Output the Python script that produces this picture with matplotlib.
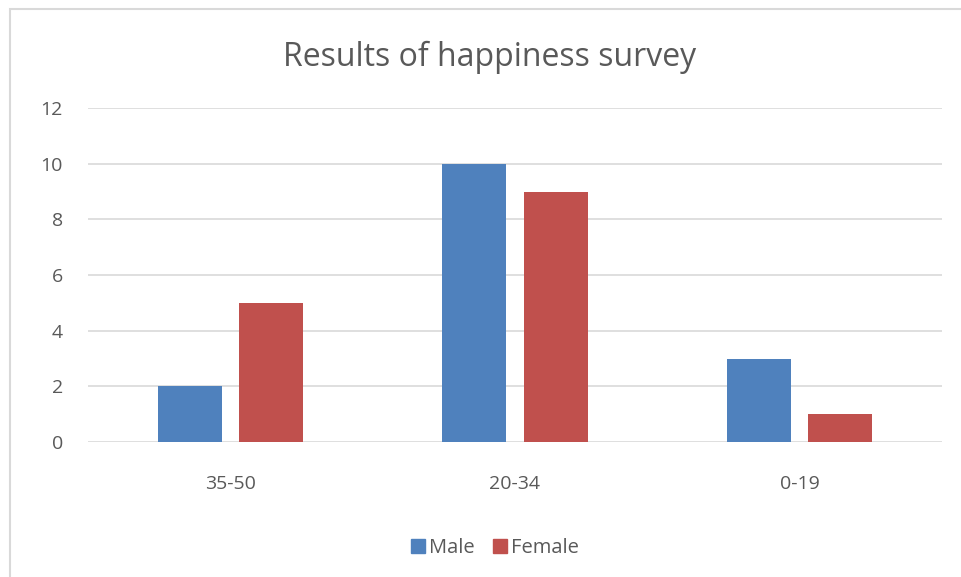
import matplotlib
matplotlib.use("Agg")
import matplotlib.pyplot as plt
import numpy as np
from matplotlib.patches import Rectangle, Patch

categories = ["35-50", "20-34", "0-19"]
male = [2, 10, 3]
female = [5, 9, 1]
yticks = [0, 2, 4, 6, 8, 10, 12]

plt.rcParams['font.family'] = ['Open Sans', 'DejaVu Sans']
fig = plt.figure(figsize=(9.62, 5.77), dpi=100)
fig.patches.append(Rectangle((10/962, -0.01), 0.995 - 10/962 + 0.02, 1 - 9/577 + 0.01,
                             transform=fig.transFigure, fill=False, edgecolor='#d9d9d9', lw=1.5))
ax = fig.add_axes([88/962, 1-442/577, (942-88)/962, (442-108)/577])
x = np.arange(len(categories))
w = 0.225
off = 0.1425
ax.bar(x - off, male, w, color='#4f81bd', label='Male', zorder=3)
ax.bar(x + off, female, w, color='#c0504d', label='Female', zorder=3)
ax.set_xlim(-0.5, 2.5)
ax.set_ylim(0, 12)
ax.set_yticks(yticks)
ax.set_xticks(x)
ax.set_xticklabels(categories)
ax.grid(axis='y', color='#d9d9d9', lw=1.2, zorder=0)
for s in ax.spines.values():
    s.set_visible(False)
ax.tick_params(axis='both', length=0, colors='#595959', labelsize=14)
ax.tick_params(axis='x', pad=24)
ax.tick_params(axis='y', pad=18)
fig.text(490/962, 1-57/577, "Results of happiness survey", ha='center', va='center',
         fontsize=23, color='#595959')
fig.legend(handles=[Patch(color='#4f81bd', label='Male'), Patch(color='#c0504d', label='Female')],
           loc='center', bbox_to_anchor=(495/962, 1-548/577), ncol=2, frameon=False,
           fontsize=14.5, labelcolor='#595959', handlelength=0.7, handleheight=0.7,
           handletextpad=0.2, columnspacing=0.9)
fig.savefig("out.png", dpi=100)
